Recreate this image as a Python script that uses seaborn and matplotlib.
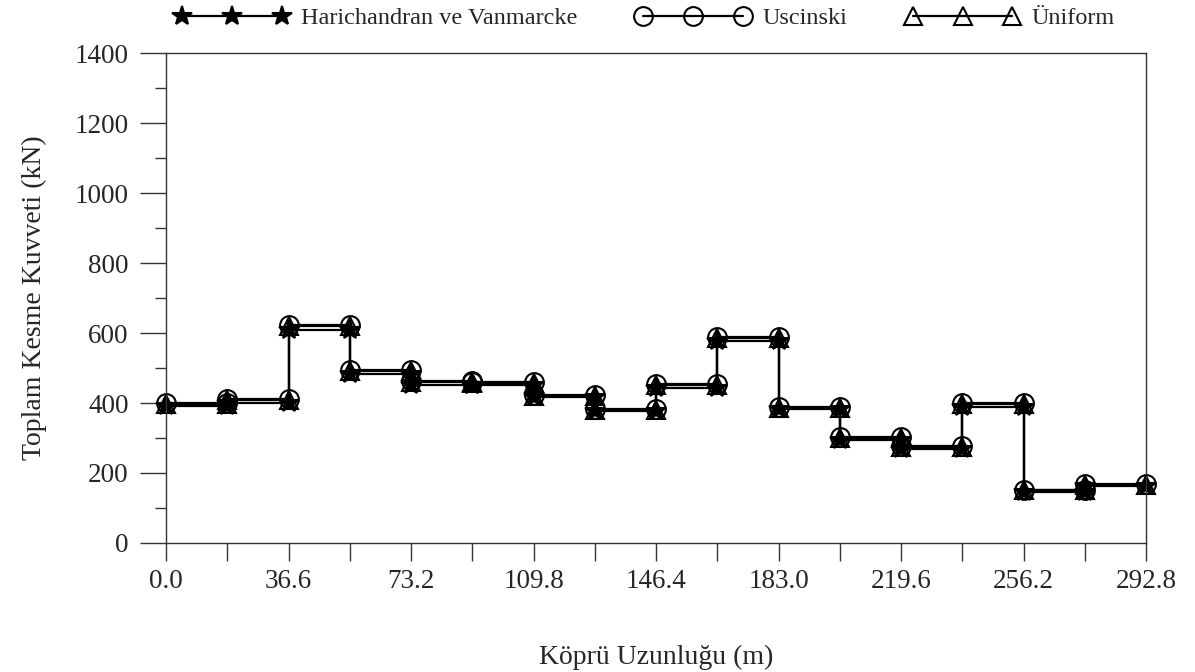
import numpy as np
import pandas as pd
import matplotlib
matplotlib.use("Agg")
import matplotlib.pyplot as plt
import seaborn as sns
from matplotlib.ticker import MultipleLocator

# ---- data -----------------------------------------------------------
edges = [0.0, 18.3, 36.6, 54.9, 73.2, 91.5, 109.8, 128.1, 146.4,
         164.7, 183.0, 201.3, 219.6, 237.9, 256.2, 274.5, 292.8]
harichandran = [391, 401, 610, 483, 451, 452, 417, 377, 442,
                576, 382, 295, 268, 389, 147, 162]
uscinski = [400, 411, 623, 495, 462, 460, 423, 383, 454,
            588, 389, 303, 277, 399, 152, 168]
uniform = [397, 408, 620, 492, 459, 457, 421, 381, 451,
           585, 387, 301, 275, 396, 150, 166]
xtick_vals = edges
xtick_labels = ["0.0", "", "36.6", "", "73.2", "", "109.8", "", "146.4",
                "", "183.0", "", "219.6", "", "256.2", "", "292.8"]
names = ["Harichandran ve Vanmarcke", "Uscinski", "Üniform"]


def step_points(vals):
    xs, ys = [], []
    for i, v in enumerate(vals):
        xs += [edges[i], edges[i + 1]]
        ys += [v, v]
    return xs, ys


sns.set_style("ticks")
plt.rcParams["font.family"] = ["Liberation Serif", "DejaVu Serif"]

fig = plt.figure(figsize=(11.95, 6.72), dpi=100)
ax = fig.add_axes([0.139, 0.192, 0.820, 0.729])

styles = {
    "Uscinski": dict(marker="o", markersize=13.5, markerfacecolor="none"),
    "Üniform": dict(marker="^", markersize=12.5, markerfacecolor="none"),
    "Harichandran ve Vanmarcke": dict(marker="*", markersize=15,
                                      markerfacecolor="black"),
}
series = {"Harichandran ve Vanmarcke": harichandran,
          "Uscinski": uscinski, "Üniform": uniform}

for name in ["Uscinski", "Üniform", "Harichandran ve Vanmarcke"]:
    xs, ys = step_points(series[name])
    df = pd.DataFrame({"x": xs, "y": ys})
    sns.lineplot(data=df, x="x", y="y", sort=False, estimator=None,
                 color="black", linewidth=1.6, markeredgecolor="black",
                 markeredgewidth=1.5, label=name, ax=ax, clip_on=False,
                 **styles[name])

handles, labels = ax.get_legend_handles_labels()
if ax.get_legend() is not None:
    ax.get_legend().remove()
hmap = dict(zip(labels, handles))
fig.legend([hmap[n] for n in names], names, loc="center",
           bbox_to_anchor=(645 / 1195, 1 - 18 / 672), ncol=3,
           frameon=False, numpoints=3, handlelength=4.7,
           handletextpad=0.5, columnspacing=2.4, fontsize=17.5,
           borderpad=0, borderaxespad=0)

ax.set_xlim(0, 292.8)
ax.set_ylim(0, 1400)
ax.set_xticks(xtick_vals)
ax.set_xticklabels(xtick_labels)
ax.yaxis.set_major_locator(MultipleLocator(200))
ax.yaxis.set_minor_locator(MultipleLocator(100))
ax.tick_params(axis="x", which="major", length=13, width=1, color="#333",
               labelsize=19.5, pad=6, direction="out")
ax.tick_params(axis="y", which="major", length=19, width=1, color="#333",
               labelsize=19.5, pad=8, direction="out")
ax.tick_params(axis="y", which="minor", length=8, width=1, color="#333",
               direction="out")
for s in ax.spines.values():
    s.set_visible(True)
    s.set_color("#333")
    s.set_linewidth(1)

ax.set_xlabel("Köprü Uzunluğu (m)", fontsize=20, labelpad=36)
ax.set_ylabel("Toplam Kesme Kuvveti (kN)", fontsize=20, labelpad=20)

fig.savefig("out.png", dpi=100)
